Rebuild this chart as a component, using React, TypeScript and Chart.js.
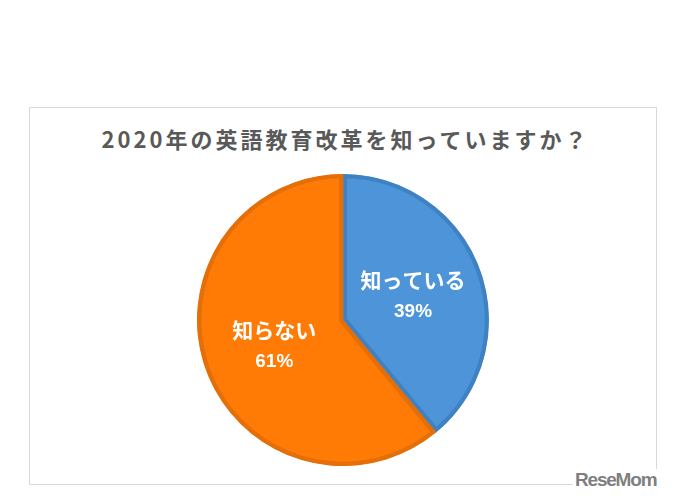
import React, { useEffect, useRef } from "react";
import { Chart, registerables } from "chart.js";

Chart.register(...registerables);

const TITLE = "2020年の英語教育改革を知っていますか？";
const categories = ["知っている", "知らない"];
const values = [39, 61];
const percentLabels = ["39%", "61%"];
const fillColors = ["#4e94d8", "#ff7b05"];
const borderColors = ["#3f82c3", "#e46e07"];
const labelRadiusFrac = [0.51, 0.5];

const sliceLabelPlugin = {
  id: "sliceLabels",
  afterDatasetsDraw(chart: any) {
    const meta = chart.getDatasetMeta(0);
    const ctx = chart.ctx;
    ctx.save();
    ctx.fillStyle = "#ffffff";
    ctx.textAlign = "center";
    ctx.textBaseline = "middle";
    meta.data.forEach((arc: any, i: number) => {
      const { x, y, startAngle, endAngle, outerRadius } = arc.getProps(
        ["x", "y", "startAngle", "endAngle", "outerRadius"],
        true
      );
      const mid = (startAngle + endAngle) / 2;
      const r = outerRadius * labelRadiusFrac[i];
      const cx = x + Math.cos(mid) * r;
      const cy = y + Math.sin(mid) * r;
      ctx.font = "bold 21px 'Noto Sans CJK JP', sans-serif";
      ctx.fillText(categories[i], cx, cy - 15);
      ctx.font = "bold 19px 'Liberation Sans', 'Noto Sans', sans-serif";
      ctx.fillText(percentLabels[i], cx, cy + 17);
    });
    ctx.restore();
  },
};

export default function App() {
  const ref = useRef<HTMLCanvasElement | null>(null);
  useEffect(() => {
    document.body.style.margin = "0";
    if (!ref.current) return;
    const chart = new Chart(ref.current, {
      type: "pie",
      data: {
        labels: categories,
        datasets: [
          {
            data: values,
            backgroundColor: fillColors,
            borderColor: borderColors,
            borderWidth: 4,
            borderAlign: "inner",
          } as any,
        ],
      },
      options: {
        animation: false,
        responsive: false,
        devicePixelRatio: 1,
        radius: 146,
        layout: { padding: { left: 197, top: 174, right: 688 - 489, bottom: 504 - 466 } },
        plugins: {
          legend: { display: false },
          tooltip: { enabled: false },
          title: { display: false },
        },
      } as any,
      plugins: [sliceLabelPlugin],
    });
    return () => chart.destroy();
  }, []);

  return (
    <div style={{ position: "fixed", left: 0, top: 0, width: 688, height: 504, background: "#fff", overflow: "hidden" }}>
      <div
        style={{
          position: "absolute",
          left: 29,
          top: 107,
          width: 628,
          height: 378,
          border: "1px solid #d9d9d9",
          boxSizing: "border-box",
        }}
      />
      <div
        style={{
          position: "absolute",
          left: 0,
          top: 123,
          width: 688,
          textAlign: "center",
          fontFamily: "'Noto Sans CJK JP', sans-serif",
          fontWeight: "bold",
          fontSize: 22,
          lineHeight: "30px",
          letterSpacing: 3,
          color: "#595959",
          paddingLeft: 3,
          boxSizing: "border-box",
        }}
      >
        {TITLE}
      </div>
      <canvas ref={ref} width={688} height={504} style={{ position: "absolute", left: 0, top: 0 }} />
      <div
        style={{
          position: "absolute",
          left: 573,
          top: 469,
          fontFamily: "'Liberation Sans', sans-serif",
          fontWeight: "bold",
          fontSize: 19,
          lineHeight: "22px",
          color: "#7f7f7f",
          letterSpacing: -1.2,
          background: "#fff",
          padding: "0 2px",
        }}
      >
        ReseMom
      </div>
    </div>
  );
}
